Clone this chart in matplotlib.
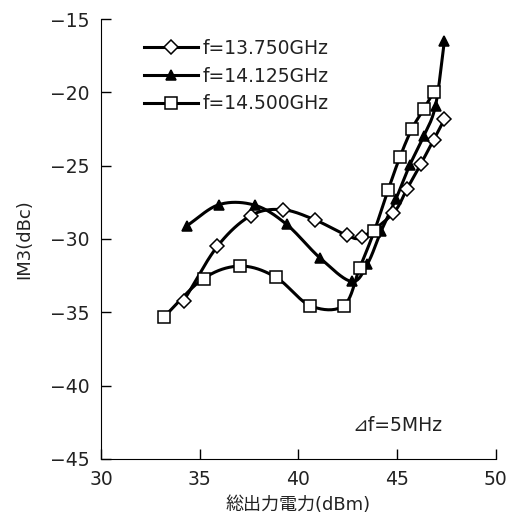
# coding=utf-8
import numpy as np
import matplotlib
matplotlib.use('Agg')
import matplotlib.pyplot as plt

# 英数字はDejaVu、日本語はNoto CJKで表示
plt.rcParams['font.family'] = ['DejaVu Sans', 'Noto Sans CJK JP']
plt.rcParams['axes.unicode_minus'] = True
plt.rcParams['text.color'] = '#222222'
plt.rcParams['xtick.labelcolor'] = '#222222'
plt.rcParams['ytick.labelcolor'] = '#222222'
plt.rcParams['axes.labelcolor'] = '#222222'

# f=13.750GHz
x_a = [34.2, 35.9, 37.6, 39.2, 40.85, 42.45, 43.25, 44.8, 45.5, 46.2, 46.85, 47.4]
y_a = [-34.2, -30.5, -28.4, -28.0, -28.7, -29.75, -29.85, -28.25, -26.6, -24.9, -23.25, -21.85]

# f=14.125GHz
x_b = [34.35, 36.0, 37.8, 39.4, 41.1, 42.7, 43.5, 44.2, 44.95, 45.65, 46.35, 46.95, 47.4]
y_b = [-29.1, -27.65, -27.7, -29.0, -31.3, -32.9, -31.7, -29.45, -27.25, -24.95, -23.0, -20.9, -16.5]

# f=14.500GHz
x_c = [33.2, 35.2, 37.05, 38.85, 40.6, 42.3, 43.1, 43.85, 44.55, 45.15, 45.75, 46.35, 46.85]
y_c = [-35.3, -32.7, -31.85, -32.6, -34.55, -34.55, -32.0, -29.45, -26.65, -24.4, -22.5, -21.15, -20.0]

labels = ['f=13.750GHz', 'f=14.125GHz', 'f=14.500GHz']
x_ticks = [30, 35, 40, 45, 50]
y_ticks = [-45, -40, -35, -30, -25, -20, -15]


def smooth(xs, ys, n=20):
    """Catmull-Rom曲線で点の間をなめらかにつなぐ"""
    p = np.column_stack([xs, ys])
    p = np.vstack([2 * p[0] - p[1], p, 2 * p[-1] - p[-2]])
    out = []
    t = np.linspace(0, 1, n, endpoint=False)[:, None]
    for i in range(1, len(p) - 2):
        p0, p1, p2, p3 = p[i - 1], p[i], p[i + 1], p[i + 2]
        seg = 0.5 * ((2 * p1) + (-p0 + p2) * t
                     + (2 * p0 - 5 * p1 + 4 * p2 - p3) * t ** 2
                     + (-p0 + 3 * p1 - 3 * p2 + p3) * t ** 3)
        out.append(seg)
    out.append(p[-2][None, :])
    out = np.vstack(out)
    return out[:, 0], out[:, 1]


def main():
    fig = plt.figure(figsize=(5.1, 5.15), dpi=100)
    ax = fig.add_axes([0.198, 0.109, 0.774, 0.854])

    series = [(x_a, y_a, 'D', 'white', 7.5),
              (x_b, y_b, '^', 'black', 7),
              (x_c, y_c, 's', 'white', 8)]
    handles = []
    for (xs, ys, mk, fc, ms), lab in zip(series, labels):
        sx, sy = smooth(xs, ys)
        ax.plot(sx, sy, color='black', lw=2.2, zorder=2)
        ax.plot(xs, ys, ls='none', marker=mk, ms=ms, mfc=fc,
                mec='black', mew=1.1, zorder=3)
        h, = ax.plot([], [], color='black', lw=2.2, marker=mk, ms=ms,
                     mfc=fc, mec='black', mew=1.1)
        handles.append(h)

    ax.legend(handles, labels, loc='upper left', bbox_to_anchor=(0.108, 0.955),
              frameon=False, fontsize=13.5, handlelength=2.9, handletextpad=0.25,
              labelspacing=0.47, borderpad=0, borderaxespad=0)

    ax.text(42.75, -42.75, '⊿f=5MHz', fontsize=13.5, va='center', ha='left')

    ax.set_xlim(30, 50)
    ax.set_ylim(-45, -15)
    ax.set_xticks(x_ticks)
    ax.set_yticks(y_ticks)
    ax.tick_params(direction='in', length=7, width=1, labelsize=13.5)
    ax.tick_params(axis='x', pad=8)
    ax.tick_params(axis='y', pad=8)
    ax.spines['top'].set_visible(False)
    ax.spines['right'].set_visible(False)
    ax.set_xlabel('総出力電力(dBm)', fontsize=13, labelpad=5)
    ax.set_ylabel('IM3(dBc)', fontsize=13, labelpad=12)

    fig.savefig('out.png', dpi=100)


if __name__ == '__main__':
    main()
